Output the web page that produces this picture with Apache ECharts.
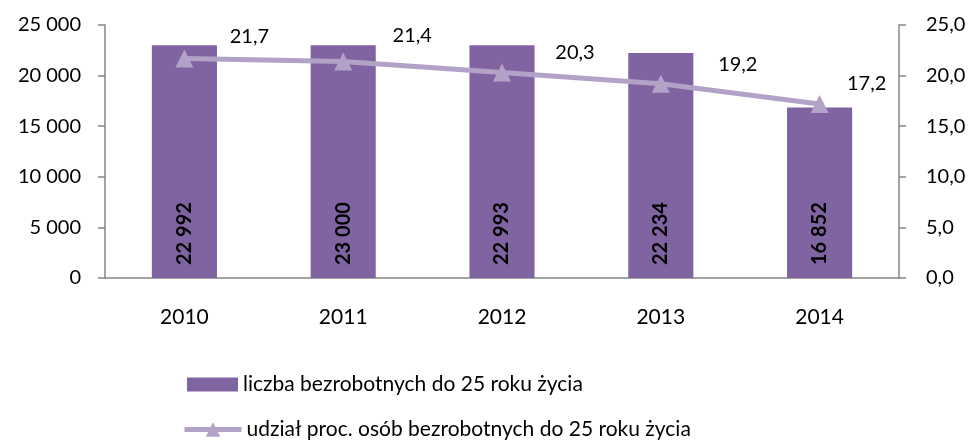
<!DOCTYPE html>
<html><head><meta charset="utf-8">
<script src="https://cdn.jsdelivr.net/npm/echarts@6/dist/echarts.min.js"></script>
<style>html,body{margin:0;padding:0;background:#fff}#c{width:976px;height:444px}</style>
</head><body><div id="c"></div>
<script>
var categories = ['2010', '2011', '2012', '2013', '2014'];
var unemployedCount = [22992, 23000, 22993, 22234, 16852];
var unemployedShare = [21.7, 21.4, 20.3, 19.2, 17.2];
var leftTicks = [0, 5000, 10000, 15000, 20000, 25000];
var rightTicks = [0, 5, 10, 15, 20, 25];
var seriesNames = ['liczba bezrobotnych do 25 roku życia', 'udział proc. osób bezrobotnych do 25 roku życia'];

// label placement (style, pixels relative to each point)
var shareLabelOffsets = [[65, -22], [69, -26], [73, -20], [77, -19], [47, -20]];

function fmtThousands(v) {
  return String(Math.round(v)).replace(/\B(?=(\d{3})+(?!\d))/g, ' ');
}
function fmtComma(v) { return v.toFixed(1).replace('.', ','); }

var FONT = 'Lato';
var axisColor = '#868686';
var barColor = '#8064A2';
var lineColor = '#B3A2C7';
var legendText = { fontFamily: FONT, fontSize: 21, color: '#000' };

var lineData = unemployedShare.map(function (v, i) {
  return { value: v, label: { offset: shareLabelOffsets[i] } };
});

var chart = echarts.init(document.getElementById('c'));
chart.setOption({
  animation: false,
  textStyle: { fontFamily: FONT, color: '#000' },
  grid: { left: 105, right: 77, top: 25, bottom: 166 },
  legend: [
    {
      left: 182, top: 369, itemWidth: 51, itemHeight: 14,
      textStyle: legendText,
      data: [{ name: seriesNames[0], icon: 'rect' }]
    },
    {
      left: 177, top: 414, itemWidth: 57, itemHeight: 18,
      textStyle: legendText,
      data: [{ name: seriesNames[1], lineStyle: { width: 5, color: lineColor }, itemStyle: { color: lineColor } }]
    }
  ],
  xAxis: {
    type: 'category', data: categories,
    axisLine: { lineStyle: { color: axisColor, width: 1.5 } },
    axisTick: { length: 8, lineStyle: { color: axisColor, width: 1.5 } },
    axisLabel: { fontSize: 21, color: '#000', margin: 29, fontFamily: FONT }
  },
  yAxis: [
    {
      type: 'value', min: leftTicks[0], max: leftTicks[leftTicks.length - 1], interval: 5000,
      axisLine: { show: true, lineStyle: { color: axisColor, width: 1.5 } },
      axisTick: { show: true, length: 7, lineStyle: { color: axisColor, width: 1.5 } },
      splitLine: { show: false },
      axisLabel: { fontSize: 20, color: '#000', margin: 24, fontFamily: FONT, formatter: fmtThousands }
    },
    {
      type: 'value', min: rightTicks[0], max: rightTicks[rightTicks.length - 1], interval: 5,
      axisLine: { show: true, lineStyle: { color: axisColor, width: 1.5 } },
      axisTick: { show: true, length: 7, lineStyle: { color: axisColor, width: 1.5 } },
      splitLine: { show: false },
      axisLabel: { fontSize: 20, color: '#000', margin: 27, fontFamily: FONT, formatter: fmtComma }
    }
  ],
  series: [
    {
      name: seriesNames[0], type: 'bar', yAxisIndex: 0, data: unemployedCount,
      barWidth: '41%',
      itemStyle: { color: barColor },
      label: {
        show: true, position: 'insideBottom', rotate: 90, distance: 13,
        align: 'left', verticalAlign: 'middle',
        fontSize: 20, fontWeight: 'bold', color: '#000', fontFamily: FONT,
        formatter: function (p) { return fmtThousands(p.value); }
      }
    },
    {
      name: seriesNames[1], type: 'line', yAxisIndex: 1, data: lineData,
      symbol: 'triangle', symbolSize: 18,
      lineStyle: { color: lineColor, width: 5 },
      itemStyle: { color: lineColor },
      z: 3,
      label: {
        show: true, position: 'inside',
        fontSize: 20, color: '#000', fontFamily: FONT,
        formatter: function (p) { return fmtComma(p.value); }
      }
    }
  ]
});
</script></body></html>
